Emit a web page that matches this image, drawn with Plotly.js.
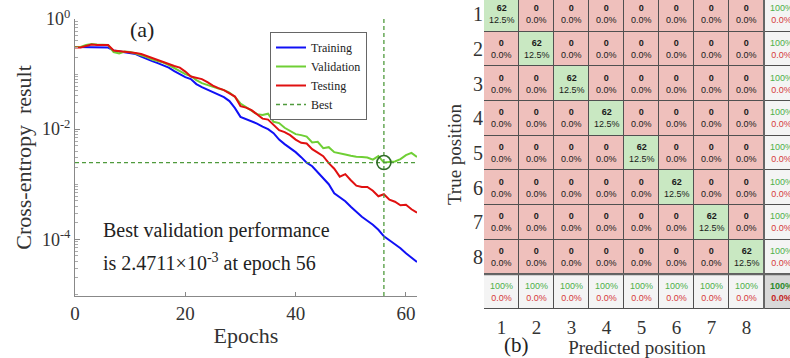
<!DOCTYPE html>
<html><head><meta charset="utf-8">
<script src="https://cdn.plot.ly/plotly-3.0.1.min.js"></script>
<style>html,body{margin:0;padding:0;background:#fff}</style>
</head><body><div id="chart" style="width:790px;height:358px"></div>
<script>
const epochs = [0,1,2,3,4,5,6,7,8,9,10,11,12,13,14,15,16,17,18,19,20,21,22,23,24,25,26,27,28,29,30,31,32,33,34,35,36,37,38,39,40,41,42,43,44,45,46,47,48,49,50,51,52,53,54,55,56,57,58,59,60,61,62];
const trainingLoss = [
  0.310,0.310,0.310,0.310,0.310,0.310,0.303,0.268,0.257,0.246,
  0.241,0.231,0.208,0.187,0.172,0.158,0.146,0.131,0.113,0.100,
  0.0882,0.0811,0.0658,0.0580,0.0523,0.0471,0.0424,0.0382,0.0323,0.0241,
  0.0167,0.0152,0.0140,0.0126,0.0111,0.0100,0.00846,0.00645,0.00534,0.00451,
  0.00382,0.00310,0.00246,0.00212,0.00165,0.00129,0.00100,0.000686,0.000580,0.000491,
  0.000390,0.000310,0.000257,0.000217,0.000184,0.000149,0.000113,0.0000959,0.0000811,0.0000686,
  0.0000556,0.0000471,0.0000387];
const validationLoss = [
  0.310,0.310,0.337,0.351,0.344,0.344,0.337,0.251,0.236,0.257,
  0.251,0.236,0.222,0.204,0.184,0.172,0.162,0.146,0.129,0.111,
  0.100,0.0920,0.0778,0.0686,0.0631,0.0580,0.0545,0.0512,0.0461,0.0382,
  0.0292,0.0251,0.0217,0.0187,0.0180,0.0191,0.0136,0.0129,0.0106,0.00920,
  0.00811,0.00778,0.00731,0.00573,0.00588,0.00451,0.00471,0.00382,0.00359,0.00347,
  0.00330,0.00316,0.00313,0.00306,0.00279,0.00323,0.0024711,0.00250,0.00258,0.00285,
  0.00337,0.00371,0.00313];
const testingLoss = [
  0.303,0.303,0.323,0.344,0.337,0.337,0.337,0.268,0.262,0.257,
  0.251,0.241,0.231,0.212,0.195,0.180,0.162,0.149,0.140,0.131,
  0.111,0.0901,0.0863,0.0811,0.0716,0.0618,0.0556,0.0512,0.0446,0.0390,
  0.0262,0.0246,0.0221,0.0187,0.0155,0.0149,0.0118,0.00959,0.00882,0.00778,
  0.00645,0.00564,0.00550,0.00433,0.00374,0.00323,0.00241,0.00191,0.00137,0.00152,
  0.00118,0.000939,0.000893,0.000893,0.000762,0.000605,0.000658,0.000523,0.000481,0.000415,
  0.000424,0.000351,0.000303];
const yTickVals = [1, 0.01, 0.0001];
const yTickText = ['10<sup>0</sup>', '10<sup>-2</sup>', '10<sup>-4</sup>'];
const xTickVals = [0, 20, 40, 60];
const classLabels = ['1','2','3','4','5','6','7','8'];
const confusionCounts = [
  [62,0,0,0,0,0,0,0],
  [0,62,0,0,0,0,0,0],
  [0,0,62,0,0,0,0,0],
  [0,0,0,62,0,0,0,0],
  [0,0,0,0,62,0,0,0],
  [0,0,0,0,0,62,0,0],
  [0,0,0,0,0,0,62,0],
  [0,0,0,0,0,0,0,62]];

// ---------- derived ----------
let bestIdx = 0;
for (let i = 1; i < validationLoss.length; i++) if (validationLoss[i] < validationLoss[bestIdx]) bestIdx = i;
const bestEpoch = epochs[bestIdx], bestValue = validationLoss[bestIdx];
const bestExp = Math.floor(Math.log10(bestValue));
const bestMant = (bestValue / Math.pow(10, bestExp)).toFixed(4);
const yLogRange = [-5.03, 0];
const xRange = [0, 62];

const SERIF = 'Liberation Serif, Times New Roman, serif';
const SANS = 'Liberation Sans, Arial, sans-serif';
const cGreenLine = '#6fcf35', cBest = '#4f9a3d';

const traces = [
  {x: epochs, y: trainingLoss, type: 'scatter', mode: 'lines', name: 'Training', line: {color: '#1010f5', width: 2}},
  {x: epochs, y: validationLoss, type: 'scatter', mode: 'lines', name: 'Validation', line: {color: cGreenLine, width: 2}},
  {x: epochs, y: testingLoss, type: 'scatter', mode: 'lines', name: 'Testing', line: {color: '#e01010', width: 2}},
  {x: [xRange[0], xRange[1]], y: [bestValue, bestValue], type: 'scatter', mode: 'lines', name: 'Best', line: {color: cBest, width: 1.3, dash: '4px,3px'}},
  {x: [bestEpoch, bestEpoch], y: [Math.pow(10, yLogRange[0]), Math.pow(10, yLogRange[1])], type: 'scatter', mode: 'lines', showlegend: false, line: {color: cBest, width: 1.3, dash: '4px,3px'}},
  {x: [bestEpoch], y: [bestValue], type: 'scatter', mode: 'markers', showlegend: false, marker: {symbol: 'circle-open', size: 14, color: '#2f6b26', line: {width: 1.6, color: '#2f6b26'}}}
];

// confusion matrix with summary row/column
const n = classLabels.length;
const total = confusionCounts.flat().reduce((a, b) => a + b, 0);
const zType = [], xs = [], ys = [];
for (let i = 0; i <= n; i++) { xs.push(i + 1); ys.push(i + 1); }
const annotations = [];
function pctStr(v) { return v === 100 ? '100%' : v.toFixed(1) + '%'; }
for (let r = 0; r <= n; r++) {
  const row = [];
  for (let c = 0; c <= n; c++) {
    let t, txt;
    if (r < n && c < n) {
      t = (r === c) ? 1 : 0;
      const v = confusionCounts[r][c];
      txt = '<b>' + v + '</b><br>' + (v / total * 100).toFixed(1) + '%';
      annotations.push({x: c + 1, y: r + 1, xref: 'x2', yref: 'y2', text: txt, showarrow: false, font: {family: SANS, size: 9, color: '#1a1a1a'}});
    } else {
      let correct, sum;
      if (r < n && c === n) { correct = confusionCounts[r][r]; sum = confusionCounts[r].reduce((a, b) => a + b, 0); t = 2; }
      else if (r === n && c < n) { correct = confusionCounts[c][c]; sum = confusionCounts.reduce((a, rr) => a + rr[c], 0); t = 2; }
      else { correct = confusionCounts.reduce((a, rr, k) => a + rr[k], 0); sum = total; t = 3; }
      const p = correct / sum * 100;
      const g = t === 3 ? '#2a8a2a' : '#4cb04a', rd = t === 3 ? '#c41f1f' : '#d43a3a';
      const w0 = t === 3 ? '<b>' : '', w1 = t === 3 ? '</b>' : '';
      txt = '<span style="color:' + g + '">' + w0 + pctStr(p) + w1 + '</span><br><span style="color:' + rd + '">' + w0 + (100 - p).toFixed(1) + '%' + w1 + '</span>';
      annotations.push({x: c + 1, y: r + 1, xref: 'x2', yref: 'y2', text: txt, showarrow: false, font: {family: SANS, size: 9}});
    }
    row.push(t);
  }
  zType.push(row);
}
traces.push({
  type: 'heatmap', x: xs, y: ys, z: zType, xaxis: 'x2', yaxis: 'y2', zmin: 0, zmax: 3,
  colorscale: [[0, '#efc0bc'], [1/3, '#c9e8c2'], [2/3, '#f4f4f4'], [1, '#d8d8d8']],
  showscale: false, xgap: 1, ygap: 1, hoverinfo: 'skip'
});

function paperNote(px, py, text, size) {
  return {x: px / 790, y: 1 - py / 358, xref: 'paper', yref: 'paper', xanchor: 'center', yanchor: 'middle',
    text: text, showarrow: false, font: {family: SERIF, size: size, color: '#222'}};
}
annotations.push(
  paperNote(142, 29, '(a)', 22),
  paperNote(216, 231, 'Best validation performance', 20),
  paperNote(209, 262, 'is ' + bestMant + '\u00d710<sup>' + bestExp + '</sup> at epoch ' + bestEpoch, 20),
  paperNote(516, 345, '(b)', 21)
);

const layout = {
  width: 790, height: 358, margin: {l: 0, r: 0, t: 0, b: 0},
  paper_bgcolor: '#fff', plot_bgcolor: 'rgba(0,0,0,0)', showlegend: true,
  font: {family: SERIF, color: '#222'},
  xaxis: {domain: [75/790, 417/790], range: xRange, tickvals: xTickVals, ticks: 'inside', ticklen: 4, tickcolor: '#888',
    showline: true, linecolor: '#888', linewidth: 1, showgrid: false, zeroline: false,
    tickfont: {family: SERIF, size: 19, color: '#333'},
    title: {text: 'Epochs', font: {family: SERIF, size: 22, color: '#333'}, standoff: 4}},
  yaxis: {domain: [1 - 296/358, 1 - 19/358], type: 'log', range: yLogRange, tickmode: 'array', tickvals: yTickVals, ticktext: yTickText,
    ticks: 'inside', ticklen: 5, tickcolor: '#888', showline: true, linecolor: '#888', linewidth: 1, showgrid: false, zeroline: false,
    minor: {ticks: 'inside', ticklen: 2.5, tickcolor: '#aaa', dtick: 'D1', showgrid: false},
    tickfont: {family: SERIF, size: 18, color: '#333'},
    title: {text: 'Cross-entropy\u00a0 result', font: {family: SERIF, size: 22, color: '#333'}, standoff: 4}},
  xaxis2: {domain: [484/790, 1], anchor: 'y2', range: [0.5, 0.5 + 306/35], tickmode: 'array', tickvals: [1,2,3,4,5,6,7,8], ticktext: classLabels,
    ticks: '', showgrid: false, zeroline: false, showline: false, ticklabelstandoff: 5,
    tickfont: {family: SERIF, size: 19, color: '#333'},
    title: {text: 'Predicted position', font: {family: SERIF, size: 19, color: '#333'}, standoff: 0}},
  yaxis2: {domain: [1 - 309/358, 1], anchor: 'x2', range: [9.5, 0.5 + 3/34.6], tickmode: 'array', tickvals: [1,2,3,4,5,6,7,8], ticktext: classLabels,
    ticks: '', showgrid: false, zeroline: false, showline: false,
    tickfont: {family: SERIF, size: 20, color: '#333'},
    title: {text: 'True position', font: {family: SERIF, size: 19, color: '#333'}, standoff: 6}},
  legend: {x: 270/790, y: 1 - 32/358, xanchor: 'left', yanchor: 'top', bgcolor: '#fff', bordercolor: '#666', borderwidth: 1,
    font: {family: SERIF, size: 12, color: '#222'}, tracegroupgap: 0},
  shapes: [
    {type: 'rect', xref: 'x2', yref: 'y2', x0: 0.5, x1: n + 1.5, y0: 0.5, y1: n + 1.5, fillcolor: '#505050', line: {width: 0}, layer: 'below'},
    {type: 'line', xref: 'x2', yref: 'y2', x0: n + 0.5, x1: n + 0.5, y0: 0.5, y1: n + 1.5, line: {color: '#666', width: 2}},
    {type: 'line', xref: 'x2', yref: 'y2', x0: 0.5, x1: n + 1.5, y0: n + 0.5, y1: n + 0.5, line: {color: '#666', width: 2}}
  ],
  annotations: annotations
};

Plotly.newPlot('chart', traces, layout, {staticPlot: true, displayModeBar: false});
</script></body></html>
